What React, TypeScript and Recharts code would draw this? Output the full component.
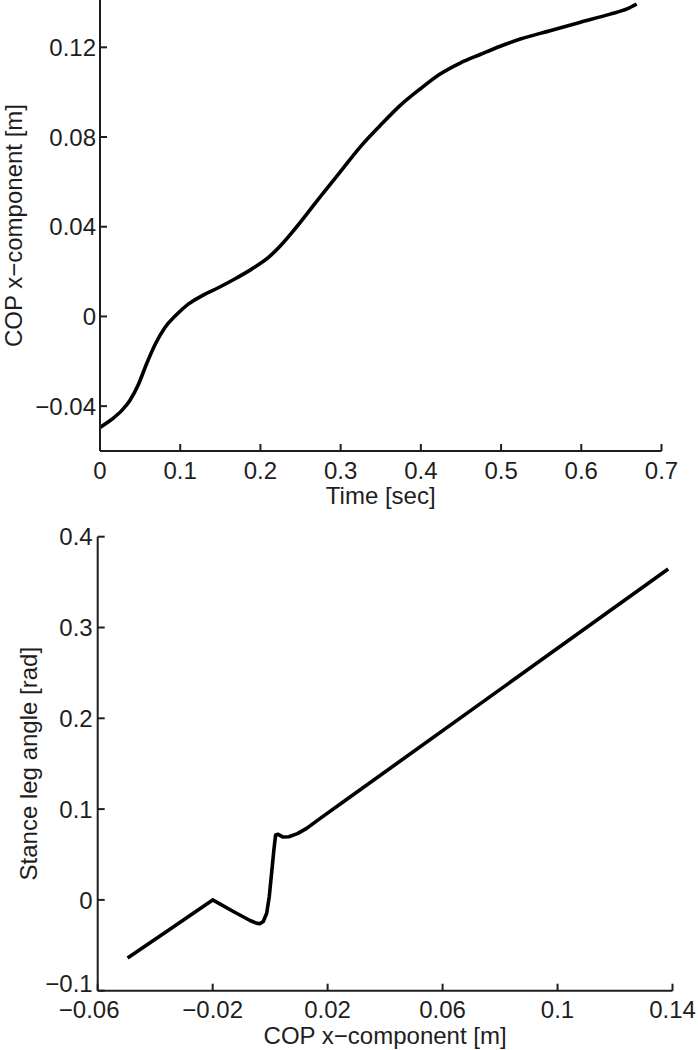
import React from 'react';
import { LineChart, Line, XAxis, YAxis, Label } from 'recharts';

// ---- Top panel: COP x-component vs time ----
const timeSec = [0, 0.015, 0.027, 0.037, 0.048, 0.058, 0.069, 0.081, 0.094, 0.110, 0.127, 0.148, 0.168, 0.189, 0.210, 0.227, 0.243, 0.274, 0.299, 0.324, 0.349, 0.374, 0.399, 0.424, 0.449, 0.474, 0.499, 0.524, 0.561, 0.598, 0.636, 0.657, 0.669];
const copTop = [-0.0495, -0.0458, -0.0420, -0.0376, -0.0302, -0.0212, -0.0123, -0.0049, 0.0003, 0.0055, 0.0092, 0.0129, 0.0167, 0.0211, 0.0263, 0.0323, 0.0390, 0.0531, 0.0642, 0.0754, 0.0850, 0.0940, 0.1014, 0.1081, 0.1130, 0.1168, 0.1205, 0.1237, 0.1274, 0.1311, 0.1348, 0.1371, 0.1393];
const timeTicks = [0, 0.1, 0.2, 0.3, 0.4, 0.5, 0.6, 0.7];
const copTicksTop = [-0.04, 0, 0.04, 0.08, 0.12];

// ---- Bottom panel: stance leg angle vs COP x-component ----
const copX = [-0.0496, -0.035, -0.0200, -0.0128, -0.0070, -0.0048, -0.0036, -0.0024, -0.0012, -0.0003, 0.0005, 0.0013, 0.0019, 0.0028, 0.0045, 0.0065, 0.0095, 0.0127, 0.0173, 0.0278, 0.1385];
const legAngle = [-0.064, -0.0325, 0.0, -0.0128, -0.0227, -0.0256, -0.0263, -0.0238, -0.0147, 0.0037, 0.0293, 0.055, 0.0714, 0.0722, 0.0692, 0.0695, 0.0730, 0.0788, 0.0895, 0.1133, 0.3645];
const copTicksBottom = [-0.06, -0.02, 0.02, 0.06, 0.1, 0.14];
const angleTicks = [-0.1, 0, 0.1, 0.2, 0.3, 0.4];

const topData = timeSec.map((t, i) => ({ t, v: copTop[i] }));
const bottomData = copX.map((c, i) => ({ c, a: legAngle[i] }));

const FONT = '"Liberation Sans", Arial, Helvetica, sans-serif';
const TEXT = '#1e1e1e';
const AXIS = '#1e1e1e';
const FS = 24;

const fmt = (v: number) => String(Number(v.toFixed(4))).replace('-', '\u2212');

const makeYTick = (gap: number, firstDy: number) => (props: any) => {
  const { x, y, payload, index } = props;
  const dy = index === 0 ? firstDy : 0;
  return (
    <g>
      <line x1={x} x2={x + 7} y1={y} y2={y} stroke={AXIS} strokeWidth={2} />
      <text x={x - gap} y={y + 8.6 + dy} textAnchor="end" fontSize={FS} fontFamily={FONT} fill={TEXT}>
        {fmt(payload.value)}
      </text>
    </g>
  );
};

const makeXTick = (off: number, firstDx: number) => (props: any) => {
  const { x, y, payload, index } = props;
  const dx = index === 0 ? firstDx : 0;
  return (
    <g>
      <line x1={x} x2={x} y1={y} y2={y - 7} stroke={AXIS} strokeWidth={2} />
      <text x={x + dx} y={y + off} textAnchor="middle" fontSize={FS} fontFamily={FONT} fill={TEXT}>
        {fmt(payload.value)}
      </text>
    </g>
  );
};

const yTitle = (text: string, bx: number) => (p: any) => {
  const vb = p.viewBox || {};
  const cx = (vb.x || 0) + bx;
  const cy = (vb.y || 0) + (vb.height || 0) / 2;
  return (
    <text transform={`translate(${cx},${cy}) rotate(-90)`} textAnchor="middle" fontSize={FS} fontFamily={FONT} fill={TEXT}>
      {text}
    </text>
  );
};

const xTitle = (text: string, by: number) => (p: any) => {
  const vb = p.viewBox || {};
  const cx = (vb.x || 0) + (vb.width || 0) / 2;
  const cy = (vb.y || 0) + by;
  return (
    <text x={cx} y={cy} textAnchor="middle" fontSize={FS} fontFamily={FONT} fill={TEXT}>
      {text}
    </text>
  );
};

export default function App() {
  return (
    <div style={{ position: 'absolute', left: 0, top: 0, width: 698, height: 1050, background: '#fff' }}>
      <div style={{ position: 'absolute', left: 0, top: 0 }}>
        <LineChart width={698} height={520} data={topData} margin={{ top: 0, right: 36.5, bottom: 0, left: 0 }}>
          <XAxis
            dataKey="t"
            type="number"
            domain={[0, 0.7]}
            ticks={timeTicks}
            interval={0}
            allowDataOverflow
            height={69}
            tickSize={0}
            tickMargin={0}
            tickLine={false}
            axisLine={{ stroke: AXIS, strokeWidth: 2 }}
            tick={makeXTick(28, 0)}
          >
            <Label content={xTitle('Time [sec]', 53)} />
          </XAxis>
          <YAxis
            type="number"
            domain={[-0.06, 0.1411]}
            ticks={copTicksTop}
            interval={0}
            allowDataOverflow
            width={100}
            tickSize={0}
            tickMargin={0}
            tickLine={false}
            axisLine={{ stroke: AXIS, strokeWidth: 2 }}
            tick={makeYTick(4, 0)}
          >
            <Label content={yTitle('COP x\u2212component [m]', 21.7)} />
          </YAxis>
          <Line
            dataKey="v"
            type="monotone"
            stroke="#000"
            strokeWidth={3.6}
            dot={false}
            activeDot={false}
            isAnimationActive={false}
          />
        </LineChart>
      </div>
      <div style={{ position: 'absolute', left: 0, top: 520 }}>
        <LineChart width={698} height={530} data={bottomData} margin={{ top: 16.7, right: 25.5, bottom: 0, left: 0 }}>
          <XAxis
            dataKey="c"
            type="number"
            domain={[-0.06, 0.14]}
            ticks={copTicksBottom}
            interval={0}
            allowDataOverflow
            height={59.3}
            tickSize={0}
            tickMargin={0}
            tickLine={false}
            axisLine={{ stroke: AXIS, strokeWidth: 2 }}
            tick={makeXTick(26.8, -8.5)}
          >
            <Label content={xTitle('COP x\u2212component [m]', 52.8)} />
          </XAxis>
          <YAxis
            type="number"
            domain={[-0.1, 0.4]}
            ticks={angleTicks}
            interval={0}
            allowDataOverflow
            width={97.7}
            tickSize={0}
            tickMargin={0}
            tickLine={false}
            axisLine={{ stroke: AXIS, strokeWidth: 2 }}
            tick={makeYTick(5, -7.4)}
          >
            <Label content={yTitle('Stance leg angle [rad]', 36.5)} />
          </YAxis>
          <Line
            dataKey="a"
            type="linear"
            stroke="#000"
            strokeWidth={3.6}
            strokeLinejoin="round"
            dot={false}
            activeDot={false}
            isAnimationActive={false}
          />
        </LineChart>
      </div>
    </div>
  );
}
